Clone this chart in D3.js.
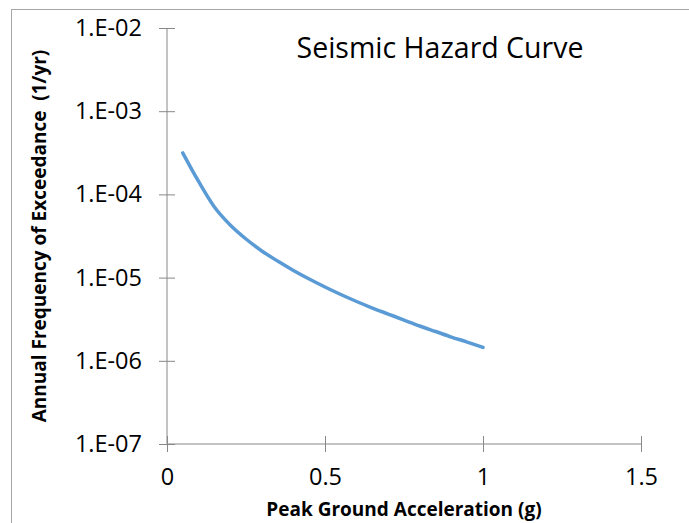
<!DOCTYPE html>
<html>
<head>
<meta charset="utf-8">
<script src="https://cdn.jsdelivr.net/npm/d3@7"></script>
<style>
  html, body { margin: 0; padding: 0; background: #fff; }
  svg { display: block; font-family: "Open Sans", "DejaVu Sans", sans-serif; }
</style>
</head>
<body>
<svg id="chart" width="689" height="523"></svg>
<script>
// ---- data ----
const pga = [0.05, 0.10, 0.15, 0.20, 0.25, 0.30, 0.35, 0.40, 0.45, 0.50,
             0.55, 0.60, 0.65, 0.70, 0.75, 0.80, 0.85, 0.90, 0.95, 1.00];
const annualFreq = [3.15e-4, 1.43e-4, 7.06e-5, 4.29e-5, 2.91e-5, 2.09e-5, 1.58e-5, 1.22e-5, 9.62e-6, 7.71e-6,
                    6.26e-6, 5.16e-6, 4.31e-6, 3.65e-6, 3.09e-6, 2.62e-6, 2.25e-6, 1.93e-6, 1.68e-6, 1.45e-6];
const xTickValues = [0, 0.5, 1, 1.5];
const xTickLabels = ["0", "0.5", "1", "1.5"];
const yTickValues = [1e-2, 1e-3, 1e-4, 1e-5, 1e-6, 1e-7];
const yTickLabels = ["1.E-02", "1.E-03", "1.E-04", "1.E-05", "1.E-06", "1.E-07"];
const chartTitle = "Seismic Hazard Curve";
const xTitle = "Peak Ground Acceleration (g)";
const yTitle = "Annual Frequency of Exceedance  (1/yr)";

// ---- layout ----
const svg = d3.select("#chart");
const mLeft = 167, mRight = 641, mTop = 28, mBottom = 444;

// chart frame
svg.append("rect")
  .attr("x", 11.5).attr("y", 9.5)
  .attr("width", 720).attr("height", 560)
  .attr("fill", "none").attr("stroke", "#a6a6a6").attr("stroke-width", 1);

const x = d3.scaleLinear().domain([0, 1.5]).range([mLeft, mRight]);
const y = d3.scaleLog().domain([1e-7, 1e-2]).range([mBottom, mTop]);

const axisColor = "#888888";

// y axis
const gy = svg.append("g").attr("transform", `translate(${mLeft},0)`)
  .call(d3.axisLeft(y).tickValues(yTickValues).tickSize(8).tickPadding(17)
    .tickFormat((d, i) => yTickLabels[i]));
gy.select(".domain").attr("stroke", axisColor).attr("d", `M0,${mTop}V${mBottom}`);
gy.selectAll(".tick line").attr("stroke", axisColor).attr("x1", 8);
gy.selectAll(".tick text").attr("font-size", 23.5).attr("fill", "#000")
  .attr("font-family", "'Open Sans', sans-serif");

// x axis
const gx = svg.append("g").attr("transform", `translate(0,${mBottom})`)
  .call(d3.axisBottom(x).tickValues(xTickValues).tickSize(8).tickPadding(16)
    .tickFormat((d, i) => xTickLabels[i]));
gx.select(".domain").attr("stroke", axisColor).attr("d", `M${mLeft},0H${mRight}`);
gx.selectAll(".tick line").attr("stroke", axisColor).attr("y1", -8);
gx.selectAll(".tick text").attr("font-size", 23.5).attr("fill", "#000")
  .attr("font-family", "'Open Sans', sans-serif");

// line
const data = pga.map((p, i) => ({ x: p, y: annualFreq[i] }));
svg.append("path")
  .datum(data)
  .attr("fill", "none")
  .attr("stroke", "#5b9bd5")
  .attr("stroke-width", 3.5)
  .attr("stroke-linecap", "round")
  .attr("stroke-linejoin", "round")
  .attr("d", d3.line().x(d => x(d.x)).y(d => y(d.y)).curve(d3.curveMonotoneX));

// title
svg.append("text")
  .attr("x", 440).attr("y", 58)
  .attr("text-anchor", "middle")
  .attr("font-size", 28.5)
  .attr("fill", "#000")
  .text(chartTitle);

// x title
svg.append("text")
  .attr("x", (mLeft + mRight) / 2).attr("y", 516)
  .attr("text-anchor", "middle")
  .attr("font-size", 19).attr("font-weight", "bold")
  .attr("fill", "#000")
  .text(xTitle);

// y title
svg.append("text")
  .attr("transform", `translate(46,${(mTop + mBottom) / 2}) rotate(-90)`)
  .attr("text-anchor", "middle")
  .attr("font-size", 19).attr("font-weight", "bold")
  .attr("fill", "#000")
  .style("white-space", "pre")
  .text(yTitle);
</script>
</body>
</html>
